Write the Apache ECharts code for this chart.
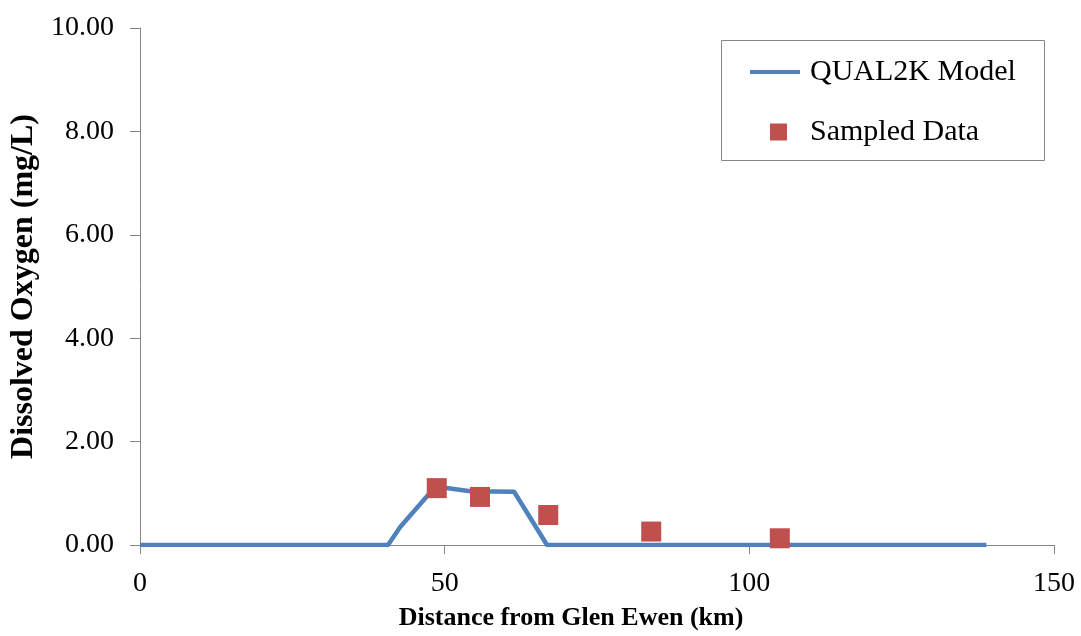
<!DOCTYPE html>
<html>
<head>
<meta charset="utf-8">
<script src="https://cdn.jsdelivr.net/npm/echarts@6/dist/echarts.min.js"></script>
<style>
  html, body { margin: 0; padding: 0; background: #ffffff; }
  #chart { width: 1081px; height: 636px; }
</style>
</head>
<body>
<div id="chart"></div>
<script>
// QUAL2K simulated dissolved oxygen along the river (km, mg/L)
const modelKm = [0, 40.7, 42.7, 48.5, 54.2, 61.4, 66.8, 138.9];
const modelDO = [0, 0, 0.35, 1.13, 1.04, 1.03, 0, 0];

// Field samples (km, mg/L)
const sampleKm = [48.7, 55.8, 67.0, 83.9, 105.0];
const sampleDO = [1.10, 0.93, 0.58, 0.26, 0.13];

// Axis settings
const xTicks = [0, 50, 100, 150];
const yTicks = [0, 2, 4, 6, 8, 10];

const FONT = '"Liberation Serif", "Times New Roman", serif';
const AXIS_GREY = '#868686';
const LINE_BLUE = '#4F81BD';
const MARK_RED = '#C0504D';

const chart = echarts.init(document.getElementById('chart'), null, { renderer: 'canvas' });

const legendText = { fontFamily: FONT, fontSize: 30, color: '#000000' };

chart.setOption({
  backgroundColor: '#ffffff',
  animation: false,
  grid: { left: 140, right: 27, top: 28, bottom: 91, containLabel: false },
  // legend frame
  graphic: [{
    type: 'rect',
    left: 721,
    top: 40,
    shape: { width: 323, height: 120 },
    style: { fill: '#ffffff', stroke: AXIS_GREY, lineWidth: 1 },
    z: 0
  }],
  legend: [
    {
      left: 750,
      top: 57,
      padding: 0,
      itemWidth: 50,
      itemHeight: 4,
      icon: 'rect',
      textStyle: Object.assign({}, legendText, { padding: [0, 0, 0, 5] }),
      data: ['QUAL2K Model']
    },
    {
      left: 770,
      top: 117,
      padding: 0,
      itemWidth: 17,
      itemHeight: 17,
      icon: 'rect',
      textStyle: Object.assign({}, legendText, { padding: [0, 0, 0, 18] }),
      data: ['Sampled Data']
    }
  ],
  xAxis: {
    type: 'value',
    min: xTicks[0],
    max: xTicks[xTicks.length - 1],
    interval: xTicks[1] - xTicks[0],
    name: 'Distance from Glen Ewen (km)',
    nameLocation: 'middle',
    nameGap: 60,
    nameTextStyle: { fontFamily: FONT, fontSize: 26, fontWeight: 'bold', color: '#000000', padding: [0, 52, 0, 0] },
    axisLine: { show: true, lineStyle: { color: AXIS_GREY, width: 1 } },
    axisTick: { show: true, length: 9, lineStyle: { color: AXIS_GREY } },
    axisLabel: { fontFamily: FONT, fontSize: 28, color: '#000000', margin: 25 },
    splitLine: { show: false }
  },
  yAxis: {
    type: 'value',
    min: yTicks[0],
    max: yTicks[yTicks.length - 1],
    interval: yTicks[1] - yTicks[0],
    name: 'Dissolved Oxygen (mg/L)',
    nameLocation: 'middle',
    nameGap: 88,
    nameTextStyle: { fontFamily: FONT, fontSize: 32, fontWeight: 'bold', color: '#000000' },
    axisLine: { show: true, lineStyle: { color: AXIS_GREY, width: 1 } },
    axisTick: { show: true, length: 10, lineStyle: { color: AXIS_GREY } },
    axisLabel: {
      fontFamily: FONT, fontSize: 28, color: '#000000', margin: 26,
      formatter: v => v.toFixed(2)
    },
    splitLine: { show: false }
  },
  series: [
    {
      name: 'QUAL2K Model',
      type: 'line',
      data: modelKm.map((km, i) => [km, modelDO[i]]),
      showSymbol: false,
      symbol: 'none',
      lineStyle: { color: LINE_BLUE, width: 4.5 },
      itemStyle: { color: LINE_BLUE },
      z: 2
    },
    {
      name: 'Sampled Data',
      type: 'scatter',
      data: sampleKm.map((km, i) => [km, sampleDO[i]]),
      symbol: 'rect',
      symbolSize: 20,
      itemStyle: { color: MARK_RED, opacity: 1 },
      z: 3
    }
  ]
});
</script>
</body>
</html>
